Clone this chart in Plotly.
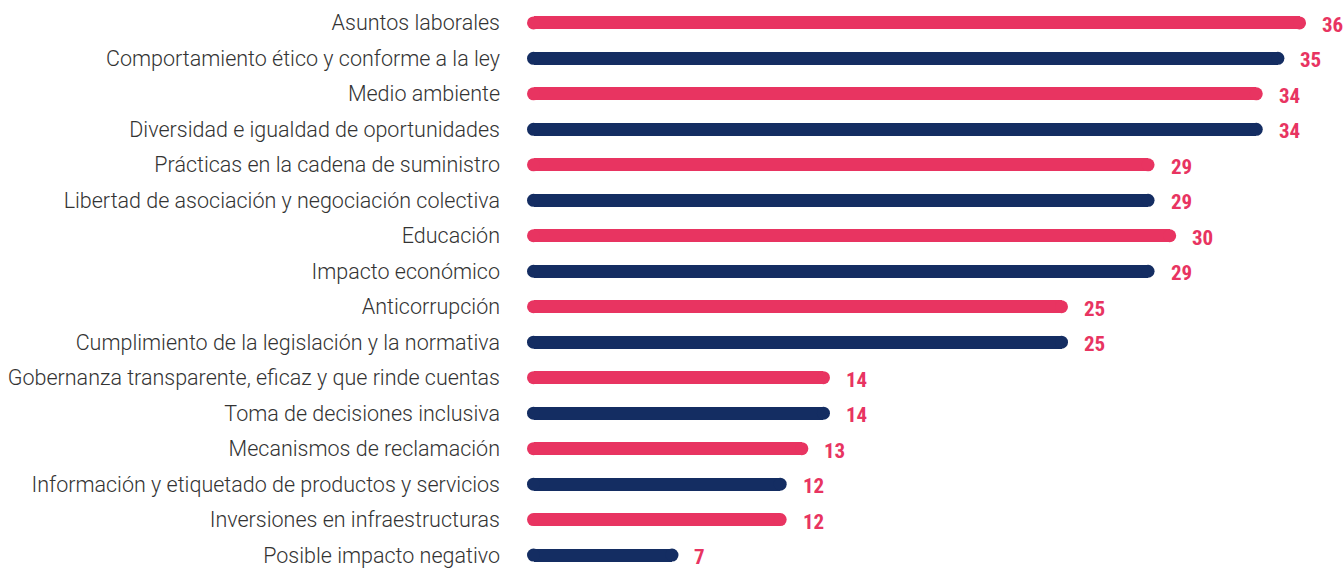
import plotly.graph_objects as go

categories = [
    "Asuntos laborales",
    "Comportamiento ético y conforme a la ley",
    "Medio ambiente",
    "Diversidad e igualdad de oportunidades",
    "Prácticas en la cadena de suministro",
    "Libertad de asociación y negociación colectiva",
    "Educación",
    "Impacto económico",
    "Anticorrupción",
    "Cumplimiento de la legislación y la normativa",
    "Gobernanza transparente, eficaz y que rinde cuentas",
    "Toma de decisiones inclusiva",
    "Mecanismos de reclamación",
    "Información y etiquetado de productos y servicios",
    "Inversiones en infraestructuras",
    "Posible impacto negativo",
]
values = [36, 35, 34, 34, 29, 29, 30, 29, 25, 25, 14, 14, 13, 12, 12, 7]

PINK = "#E83461"
NAVY = "#142D62"
colors = [PINK if i % 2 == 0 else NAVY for i in range(len(values))]

W, H = 1344, 568
LEFT = 527
PX_PER_UNIT = 21.64          # horizontal scale
ROW = 35.67                  # row pitch in px
TOP_ROW_Y = 23               # centre of first row in px
BAR_PX = 13                  # bar thickness in px

x_max = (W - LEFT) / PX_PER_UNIT
r = (BAR_PX / 2) / PX_PER_UNIT   # cap radius in data units

ys = list(range(len(values)))

fig = go.Figure()

# bar bodies, shortened by the cap radius at both ends
fig.add_trace(go.Bar(
    y=ys,
    x=[v - 2 * r for v in values],
    base=[r] * len(values),
    orientation="h",
    width=BAR_PX / ROW,
    marker=dict(color=colors, line=dict(width=0)),
    hoverinfo="skip",
    showlegend=False,
))

# rounded caps
fig.add_trace(go.Scatter(
    y=ys + ys,
    x=[r] * len(values) + [v - r for v in values],
    mode="markers",
    marker=dict(size=BAR_PX, color=colors + colors, line=dict(width=0)),
    hoverinfo="skip",
    showlegend=False,
    cliponaxis=False,
))

for i, v in enumerate(values):
    fig.add_annotation(
        x=v, y=i, text=f"<b>{v}</b>",
        xanchor="left", yanchor="middle",
        xshift=14, yshift=-2,
        showarrow=False,
        font=dict(family="Roboto Condensed, Roboto", size=21, color=PINK),
    )

fig.update_layout(
    width=W, height=H,
    margin=dict(l=LEFT, r=0, t=0, b=0),
    paper_bgcolor="white",
    plot_bgcolor="white",
    bargap=0,
    xaxis=dict(range=[0, x_max], visible=False, fixedrange=True),
    yaxis=dict(
        range=[15 + (H - (TOP_ROW_Y + 15 * ROW)) / ROW, -TOP_ROW_Y / ROW],
        tickvals=ys,
        ticktext=categories,
        showgrid=False, zeroline=False, showline=False,
        ticks="",
        ticklabelstandoff=26,
        ticklabeloverflow="allow",
        tickfont=dict(family="Roboto", size=21.5, color="#333333", weight=300),
        fixedrange=True,
    ),
)

fig.write_html("out.html")
